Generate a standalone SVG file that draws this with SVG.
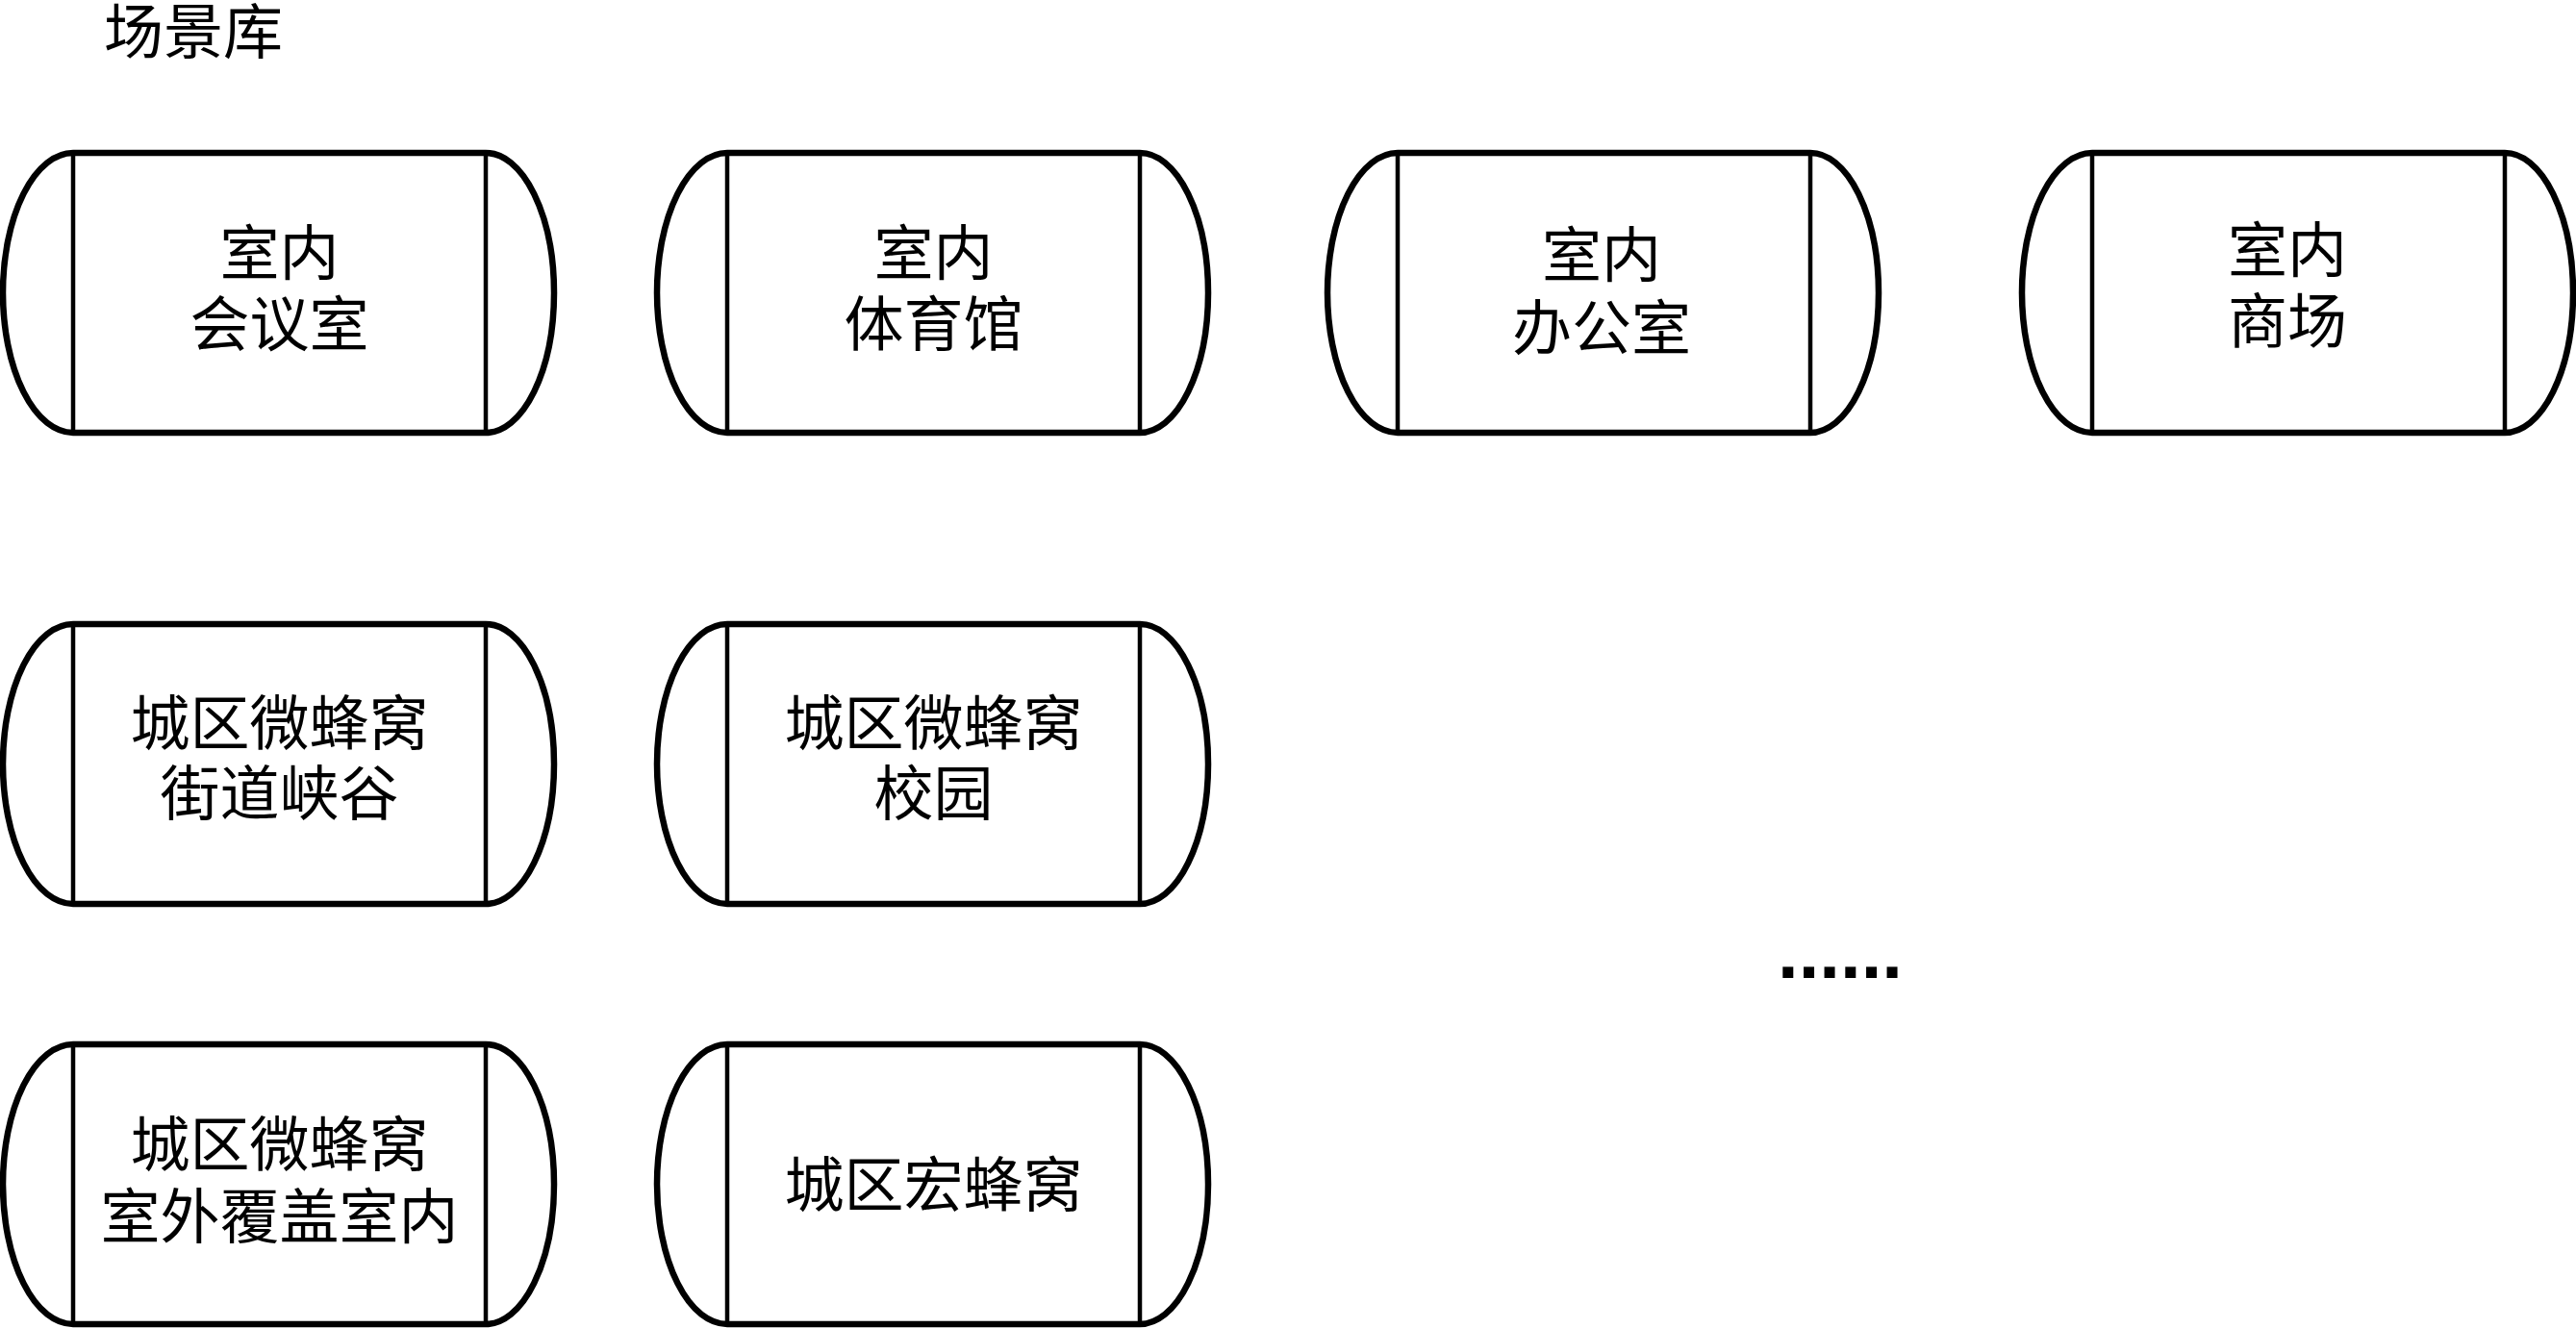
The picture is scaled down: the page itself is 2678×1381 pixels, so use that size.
<svg xmlns="http://www.w3.org/2000/svg" xmlns:xlink="http://www.w3.org/1999/xlink" width="2678" height="1381" viewBox="0 0 2678 1381">
<style>
.t{font-family:"Noto Sans CJK SC","Liberation Serif",serif;font-size:62px;fill:#000;text-anchor:middle}
.title{font-family:"Noto Sans CJK SC","Liberation Serif",serif;font-size:62px;fill:#000}
.outline{fill:#fff;stroke:#000;stroke-width:6.5;stroke-linejoin:round}
.inner{fill:none;stroke:#000;stroke-width:4.5}
.dots{font-family:"Liberation Sans",sans-serif;font-weight:bold;font-size:78px;fill:#000}
</style>
<defs>
<g id="shape">
<path class="outline" d="M73,0 L502,0 A71,145.5 0 0 1 502,291 L73,291 A73,145.5 0 0 1 73,0 Z"/>
<path class="inner" d="M73,0 V291 M502,0 V291"/>
</g>
</defs>
<rect width="2678" height="1381" fill="#fff"/>
<text class="title" x="108" y="56">场景库</text>
<g id="n1" transform="translate(3,159)"><use xlink:href="#shape"/><text class="t" x="287.5" y="127">室内</text><text class="t" x="287.5" y="201">会议室</text></g>
<g id="n2" transform="translate(683,159)"><use xlink:href="#shape"/><text class="t" x="287.5" y="127">室内</text><text class="t" x="287.5" y="201">体育馆</text></g>
<g id="n3" transform="translate(1380,159)"><use xlink:href="#shape"/><text class="t" x="285" y="129">室内</text><text class="t" x="285" y="205">办公室</text></g>
<g id="n4" transform="translate(2102,159)"><use xlink:href="#shape"/><text class="t" x="276" y="124">室内</text><text class="t" x="276" y="198">商场</text></g>
<g id="n5" transform="translate(3,649)"><use xlink:href="#shape"/><text class="t" x="287.5" y="126">城区微蜂窝</text><text class="t" x="287.5" y="199">街道峡谷</text></g>
<g id="n6" transform="translate(683,649)"><use xlink:href="#shape"/><text class="t" x="287.5" y="126">城区微蜂窝</text><text class="t" x="287.5" y="199">校园</text></g>
<g id="n7" transform="translate(3,1086)"><use xlink:href="#shape"/><text class="t" x="287.5" y="127">城区微蜂窝</text><text class="t" x="287.5" y="202">室外覆盖室内</text></g>
<g id="n8" transform="translate(683,1086)"><use xlink:href="#shape"/><text class="t" x="287.5" y="169">城区宏蜂窝</text></g>
<g id="connectors"></g>
<text class="dots" x="1848" y="1017">......</text>
</svg>
